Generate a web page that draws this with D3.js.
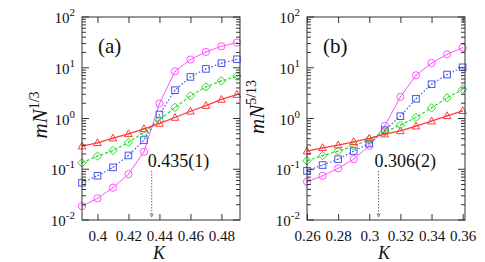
<!DOCTYPE html>
<html><head><meta charset="utf-8">
<script src="https://cdn.jsdelivr.net/npm/d3@7"></script>
<style>body{margin:0;background:#fff}svg{display:block}</style>
</head><body><svg id="c" width="485" height="262"></svg>
<script>
// ---- data ----
const kA = [0.39,0.40,0.41,0.42,0.43,0.44,0.45,0.46,0.47,0.48,0.49];
const kB = [0.26,0.27,0.28,0.29,0.30,0.31,0.32,0.33,0.34,0.35,0.36];
const aMagenta = [0.0188,0.0267,0.0433,0.080,0.221,1.97,8.5,14.5,20.5,26.5,31.3];
const aBlue    = [0.0542,0.0745,0.109,0.187,0.375,1.20,3.61,6.6,9.5,12.3,14.7];
const aGreen   = [0.134,0.182,0.234,0.337,0.531,0.927,1.65,2.79,4.20,5.5,6.8];
const aRed     = [0.286,0.332,0.410,0.499,0.627,0.798,1.047,1.39,1.80,2.37,2.97];
const bMagenta = [0.0568,0.0745,0.104,0.158,0.290,0.718,2.67,7.1,12.4,18.4,24.9];
const bBlue    = [0.093,0.121,0.158,0.228,0.322,0.589,1.11,2.44,4.73,7.34,10.2];
const bGreen   = [0.147,0.185,0.228,0.286,0.386,0.547,0.740,1.05,1.62,2.55,3.78];
const bRed     = [0.228,0.265,0.299,0.348,0.405,0.492,0.571,0.706,0.888,1.13,1.42];
const xTicksA = [0.40,0.42,0.44,0.46,0.48];
const xTicksB = [0.26,0.28,0.30,0.32,0.34,0.36];
const xTickLabelsA = ["0.4","0.42","0.44","0.46","0.48"];
const xTickLabelsB = ["0.26","0.28","0.3","0.32","0.34","0.36"];
const yTickExps = [-2,-1,0,1,2];
const crossA = 0.435, crossLabelA = "0.435(1)";
const crossB = 0.306, crossLabelB = "0.306(2)";

const FONT = "Liberation Serif, Tinos, Times New Roman, DejaVu Serif, serif";
const seriesStyle = [
  {key:"magenta", color:"#ff55ff", dash:null, width:1, sym:"circle"},
  {key:"blue", color:"#4a55f0", dash:"1.5,2", width:1.2, sym:"square"},
  {key:"green", color:"#22dd22", dash:"3,2", width:1.2, sym:"diamond"},
  {key:"red", color:"#ff3b3b", dash:null, width:1.3, sym:"triangle"}
];

const svg = d3.select("#c");

function panel(o){
  const g = svg.append("g");
  const x = d3.scaleLinear().domain(o.xdom).range([o.left,o.right]);
  const y = d3.scaleLog().domain([1e-2,1e2]).range([220,17]);
  o.series.forEach((vals,i)=>{
    const st = seriesStyle[i];
    const pts = o.k.map((k,j)=>[k,vals[j]]);
    const line = d3.line().x(d=>x(d[0])).y(d=>y(d[1]));
    g.append("path").attr("d",line(pts)).attr("fill","none")
      .attr("stroke",st.color).attr("stroke-width",st.width)
      .attr("stroke-dasharray",st.dash);
    pts.forEach(d=>{
      const cx=x(d[0]), cy=y(d[1]);
      let m;
      if(st.sym==="circle") m=g.append("circle").attr("cx",cx).attr("cy",cy).attr("r",3.6);
      else if(st.sym==="square") m=g.append("rect").attr("x",cx-3.3).attr("y",cy-3.3).attr("width",6.6).attr("height",6.6);
      else if(st.sym==="diamond") m=g.append("path").attr("d",`M${cx},${cy-4.2}L${cx+4.2},${cy}L${cx},${cy+4.2}L${cx-4.2},${cy}Z`);
      else m=g.append("path").attr("d",`M${cx},${cy-4}L${cx+3.8},${cy+2.8}L${cx-3.8},${cy+2.8}Z`);
      m.attr("fill","none").attr("stroke",st.color).attr("stroke-width",1);
      g.append("circle").attr("cx",cx).attr("cy",cy).attr("r",0.6).attr("fill",st.color);
    });
  });
  g.append("rect").attr("x",o.left).attr("y",17).attr("width",o.right-o.left).attr("height",203)
    .attr("fill","none").attr("stroke","#333").attr("stroke-width",1);
  const xb = d3.axisBottom(x).tickValues(o.xticks).tickSize(-6).tickFormat((d,i)=>o.xlabels[i]).tickPadding(10);
  const gb = g.append("g").attr("transform","translate(0,220)").call(xb).attr("font-family",FONT);
  gb.select(".domain").remove();
  gb.selectAll("line").attr("stroke","#333");
  gb.selectAll("text").attr("font-size",15).attr("fill","#111").attr("font-family",FONT);
  const xt = d3.axisTop(x).tickValues(o.xticks).tickSize(-6).tickFormat("");
  const gt = g.append("g").attr("transform","translate(0,17)").call(xt);
  gt.select(".domain").remove();
  gt.selectAll("line").attr("stroke","#333");
  const minor=[];
  for(let e=-2;e<2;e++) for(let m=2;m<=9;m++) minor.push(m*Math.pow(10,e));
  [[o.left,1],[o.right,-1]].forEach(([xx,s])=>{
    minor.forEach(v=>g.append("line").attr("x1",xx).attr("x2",xx+s*4).attr("y1",y(v)).attr("y2",y(v)).attr("stroke","#333"));
    yTickExps.forEach(e=>g.append("line").attr("x1",xx).attr("x2",xx+s*7).attr("y1",y(Math.pow(10,e))).attr("y2",y(Math.pow(10,e))).attr("stroke","#333"));
  });
  yTickExps.forEach(e=>{
    const t=g.append("text").attr("x",o.left-7).attr("y",y(Math.pow(10,e))+6).attr("text-anchor","end")
      .attr("font-size",15).attr("fill","#111").attr("font-family",FONT);
    t.append("tspan").text("10");
    t.append("tspan").attr("dy",-7).attr("font-size",11).text(String(e));
  });
  g.append("text").attr("x",(o.left+o.right)/2-2).attr("y",258.5).attr("text-anchor","middle")
    .attr("font-size",18).attr("font-style","italic").attr("fill","#111").attr("font-family",FONT).text("K");
  const yt=g.append("text").attr("transform",`translate(${o.ytx},${o.yty}) rotate(-90)`)
    .attr("text-anchor","middle").attr("font-size",21).attr("fill","#111").attr("font-family",FONT);
  yt.append("tspan").attr("font-style","italic").text("mN");
  yt.append("tspan").attr("dy",-8).attr("font-size",14).text(o.exp);
  g.append("text").attr("x",o.lblx).attr("y",53).attr("font-size",21).attr("fill","#111").attr("font-family",FONT).text(o.lbl);
  const cx=x(o.cross);
  g.append("line").attr("x1",cx).attr("x2",cx).attr("y1",171).attr("y2",216)
    .attr("stroke","#444").attr("stroke-width",0.8).attr("stroke-dasharray","1.5,1.5");
  g.append("path").attr("d",`M${cx-1.5},${y(0.0135)}L${cx},${y(0.0115)}L${cx+1.5},${y(0.0135)}`)
    .attr("fill","none").attr("stroke","#444").attr("stroke-width",0.7);
  g.append("text").attr("x",cx-4).attr("y",167).attr("font-size",18).attr("fill","#111").attr("font-family",FONT).text(o.crossLabel);
}

panel({left:82,right:240,xdom:[0.39,0.492],k:kA,series:[aMagenta,aBlue,aGreen,aRed],
  xticks:xTicksA,xlabels:xTickLabelsA,exp:"1/3",ytx:47,yty:115,lbl:"(a)",lblx:98,cross:crossA,crossLabel:crossLabelA});
panel({left:307,right:465,xdom:[0.26,0.3615],k:kB,series:[bMagenta,bBlue,bGreen,bRed],
  xticks:xTicksB,xlabels:xTickLabelsB,exp:"5/13",ytx:264,yty:107,lbl:"(b)",lblx:323,cross:crossB,crossLabel:crossLabelB});
</script></body></html>
